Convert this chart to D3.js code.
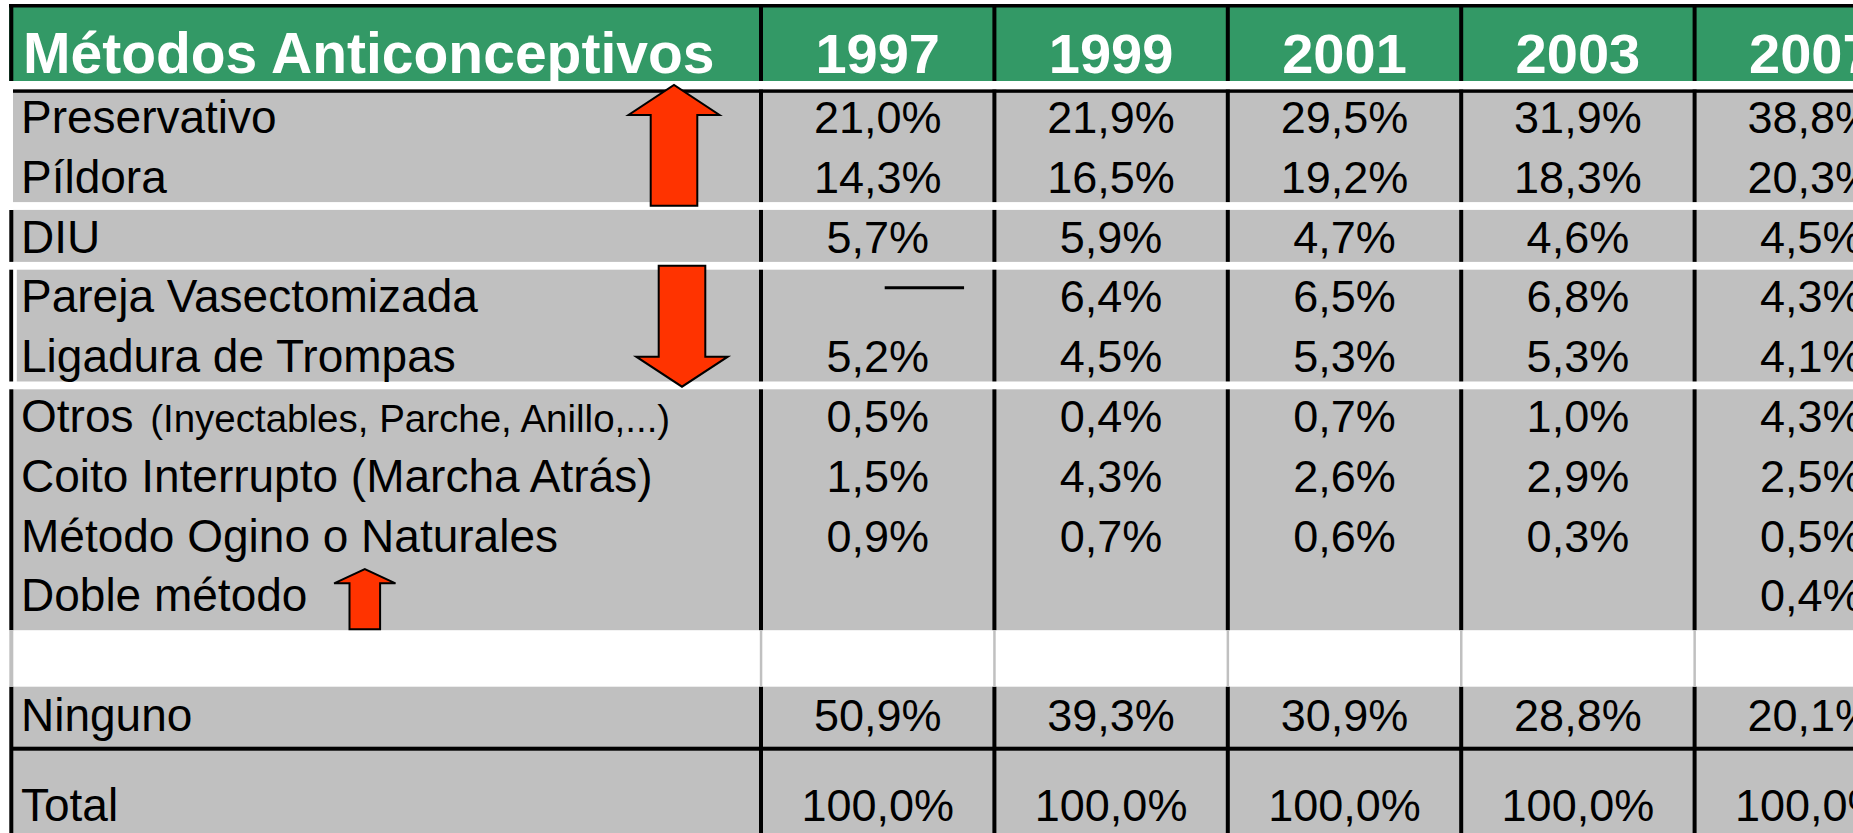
<!DOCTYPE html>
<html>
<head>
<meta charset="utf-8">
<script src="https://cdn.jsdelivr.net/npm/d3@7"></script>
<style>
  body { margin: 0; background: #fff; overflow: hidden; }
  svg { display: block; }
  text { font-family: "Liberation Sans", Arial, sans-serif; }
</style>
</head>
<body>
<svg id="tabla" width="1853" height="833"></svg>
<script>
// Datos de la tabla
var titulo = "Métodos Anticonceptivos";
var years = ["1997", "1999", "2001", "2003", "2007"];
var metodos = ["Preservativo", "Píldora", "DIU", "Pareja Vasectomizada", "Ligadura de Trompas",
  "Otros", "Coito Interrupto (Marcha Atrás)", "Método Ogino o Naturales", "Doble método", "", "Ninguno"];
var notaOtros = "(Inyectables, Parche, Anillo,...)";
// "—" = sin dato (raya en la celda), "" = celda vacía
var v1997 = ["21,0%", "14,3%", "5,7%", "—", "5,2%", "0,5%", "1,5%", "0,9%", "", "", "50,9%"];
var v1999 = ["21,9%", "16,5%", "5,9%", "6,4%", "4,5%", "0,4%", "4,3%", "0,7%", "", "", "39,3%"];
var v2001 = ["29,5%", "19,2%", "4,7%", "6,5%", "5,3%", "0,7%", "2,6%", "0,6%", "", "", "30,9%"];
var v2003 = ["31,9%", "18,3%", "4,6%", "6,8%", "5,3%", "1,0%", "2,9%", "0,3%", "", "", "28,8%"];
var v2007 = ["38,8%", "20,3%", "4,5%", "4,3%", "4,1%", "4,3%", "2,5%", "0,5%", "0,4%", "", "20,1%"];
var totalLabel = "Total";
var totales = ["100,0%", "100,0%", "100,0%", "100,0%", "100,0%"];
var valores = [v1997, v1999, v2001, v2003, v2007];

var svg = d3.select("#tabla"),
    width = +svg.attr("width"),
    height = +svg.attr("height");

var verde = "#339966", gris = "#c0c0c0", rojo = "#ff3300";

// escalas: columnas de años y filas
var x = d3.scaleBand().domain(years).range([761, 1928]);
var y = d3.scaleBand().domain(d3.range(metodos.length)).range([92, 749.8]);
var bw = y.bandwidth();
var yTot = y(metodos.length - 1) + bw;   // inicio fila Total

// cabecera verde
svg.append("rect").attr("x", 9).attr("y", 4).attr("width", width).attr("height", 77).attr("fill", verde);
svg.append("rect").attr("x", 9).attr("y", 4).attr("width", width).attr("height", 3.5).attr("fill", "#000");

// cuerpo gris
svg.append("rect").attr("x", 13).attr("y", y(0)).attr("width", width).attr("height", height - y(0)).attr("fill", gris);
// linea negra bajo la cabecera
svg.append("rect").attr("x", 13).attr("y", y(0) - 2.8).attr("width", width).attr("height", 3.6).attr("fill", "#000");

// separadores de columnas
svg.append("g").selectAll("rect")
  .data(years)
  .enter()
  .append("rect")
    .attr("x", function(d) { return x(d) - 2; })
    .attr("y", 4)
    .attr("width", 4)
    .attr("height", height)
    .attr("fill", "#000");

// borde izquierdo
svg.append("rect").attr("x", 9.3).attr("y", 4).attr("width", 4).attr("height", 77).attr("fill", "#000");
svg.append("rect").attr("x", 9.3).attr("y", y(2) - 1.6).attr("width", 4).attr("height", height).attr("fill", "#000");

// huecos blancos entre grupos
svg.append("rect").attr("x", 0).attr("y", 81).attr("width", width).attr("height", y(0) - 2.8 - 81).attr("fill", "#fff");
var cortes = [2, 3, 5];
svg.append("g").selectAll("rect")
  .data(cortes)
  .enter()
  .append("rect")
    .attr("x", 0)
    .attr("y", function(d) { return y(d) - 9.5; })
    .attr("width", width)
    .attr("height", 7.8)
    .attr("fill", "#fff");
// marco blanco del grupo vasectomia / ligadura
svg.append("rect").attr("x", 13.3).attr("y", y(3) - 9.5).attr("width", 3.5).attr("height", y(5) - y(3) + 2).attr("fill", "#fff");

// fila en blanco
var blanco = 9;
svg.append("rect").attr("x", 0).attr("y", y(blanco)).attr("width", width).attr("height", bw - 3.3).attr("fill", "#fff");
svg.append("g").selectAll("rect")
  .data(years)
  .enter()
  .append("rect")
    .attr("x", function(d) { return x(d) - 1.2; })
    .attr("y", y(blanco))
    .attr("width", 2.5)
    .attr("height", bw - 3.3)
    .attr("fill", gris);
svg.append("rect").attr("x", 9.3).attr("y", y(blanco)).attr("width", 4).attr("height", bw - 3.3).attr("fill", gris);

// linea negra sobre Total
svg.append("rect").attr("x", 13).attr("y", yTot - 3.1).attr("width", width).attr("height", 4).attr("fill", "#000");

// textos de cabecera
svg.append("text")
  .attr("x", 23).attr("y", 73)
  .style("font-size", "57px").style("font-weight", "bold").style("fill", "#fff")
  .text(titulo);
svg.append("g").selectAll("text")
  .data(years)
  .enter()
  .append("text")
    .attr("x", function(d) { return x(d) + x.bandwidth() / 2; })
    .attr("y", 73)
    .attr("text-anchor", "middle")
    .style("font-size", "56px").style("font-weight", "bold").style("fill", "#fff")
    .text(function(d) { return d; });

// etiquetas de filas
var etiquetas = svg.append("g").selectAll("text")
  .data(metodos)
  .enter()
  .append("text")
    .attr("x", 21)
    .attr("y", function(d, i) { return y(i) + 41; })
    .style("font-size", "46px")
    .style("fill", "#000");
etiquetas.append("tspan").text(function(d) { return d; });
etiquetas.filter(function(d) { return d === "Otros"; })
  .append("tspan").attr("dx", 6).style("font-size", "38.5px").text(" " + notaOtros);

// valores
years.forEach(function(yr, j) {
  var col = svg.append("g");
  col.selectAll("text")
    .data(valores[j].map(function(v, i) { return {v: v, i: i}; }).filter(function(d) { return d.v !== "" && d.v !== "—"; }))
    .enter()
    .append("text")
      .attr("x", x(yr) + x.bandwidth() / 2)
      .attr("y", function(d) { return y(d.i) + 41; })
      .attr("text-anchor", "middle")
      .style("font-size", "45px")
      .text(function(d) { return d.v; });
  // raya de "sin dato"
  valores[j].forEach(function(v, i) {
    if (v === "—") {
      col.append("line")
        .attr("x1", x(yr) + x.bandwidth() * 0.53)
        .attr("x2", x(yr) + x.bandwidth() * 0.87)
        .attr("y1", y(i) + 16.3).attr("y2", y(i) + 16.3)
        .attr("stroke", "#000").attr("stroke-width", 3);
    }
  });
});

// fila Total
svg.append("text")
  .attr("x", 21).attr("y", yTot + 71)
  .style("font-size", "46px")
  .text(totalLabel);
svg.append("g").selectAll("text")
  .data(totales)
  .enter()
  .append("text")
    .attr("x", function(d, j) { return x(years[j]) + x.bandwidth() / 2; })
    .attr("y", yTot + 71)
    .attr("text-anchor", "middle")
    .style("font-size", "45px")
    .text(function(d) { return d; });

// flechas rojas
var flechas = [
  {cx: 674, desde: y(2) - 5.9, hasta: y(0) - 7, cabeza: 30, ancho: 23.3, alas: 45.5},
  {cx: 682, desde: y(3) - 5.7, hasta: y(5) - 4.3, cabeza: 30, ancho: 23.3, alas: 45.8},
  {cx: 364.8, desde: y(blanco) - 0.9, hasta: y(8) - 1.4, cabeza: 14.3, ancho: 15.3, alas: 30.7}
];
svg.append("g").selectAll("polygon")
  .data(flechas)
  .enter()
  .append("polygon")
    .attr("points", function(f) {
      var s = f.hasta < f.desde ? 1 : -1;
      var base = f.hasta + s * f.cabeza;
      return [
        [f.cx - f.ancho, f.desde], [f.cx - f.ancho, base], [f.cx - f.alas, base],
        [f.cx, f.hasta], [f.cx + f.alas, base], [f.cx + f.ancho, base], [f.cx + f.ancho, f.desde]
      ].map(function(p) { return p.join(","); }).join(" ");
    })
    .attr("fill", rojo)
    .attr("stroke", "#000")
    .attr("stroke-width", 2)
    .attr("stroke-linejoin", "miter");
</script>
</body>
</html>
